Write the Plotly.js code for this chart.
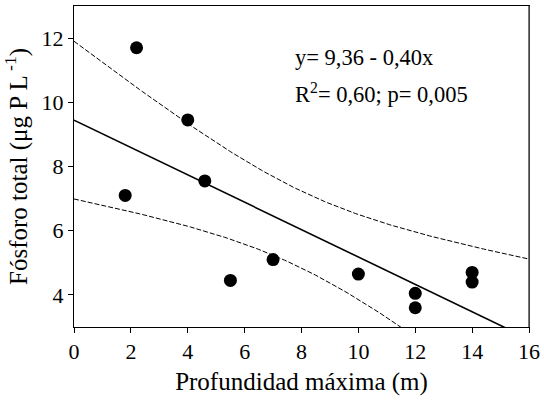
<!DOCTYPE html>
<html>
<head>
<meta charset="utf-8">
<script src="https://cdn.plot.ly/plotly-3.0.1.min.js"></script>
<style>html,body{margin:0;padding:0;background:#fff;}#chart{width:544px;height:401px;}</style>
</head>
<body>
<div id="chart"></div>
<script>
// Data
const depth = [1.8, 2.2, 4.0, 4.6, 5.5, 7.0, 10.0, 12.0, 12.0, 14.0, 14.0];
const phosphorus = [7.1, 11.7, 9.45, 7.55, 4.45, 5.1, 4.65, 4.05, 3.6, 4.7, 4.4];
const xTicks = [0, 2, 4, 6, 8, 10, 12, 14, 16];
const yTicks = [4, 6, 8, 10, 12];
const eqText = "y= 9,36 - 0,40x";
const statText = "R<sup>2</sup>= 0,60; p= 0,005";
const tCrit = 2.262; // t(0.975, df=9)

// Least-squares fit and 95% confidence band derived from the data
const n = depth.length;
const mx = depth.reduce((a, b) => a + b, 0) / n;
const my = phosphorus.reduce((a, b) => a + b, 0) / n;
let sxx = 0, sxy = 0, syy = 0;
for (let i = 0; i < n; i++) {
  sxx += (depth[i] - mx) ** 2;
  sxy += (depth[i] - mx) * (phosphorus[i] - my);
  syy += (phosphorus[i] - my) ** 2;
}
const slope = sxy / sxx;
const intercept = my - slope * mx;
const s = Math.sqrt((syy - slope * sxy) / (n - 2));
const fitX = [], fitY = [], upY = [], loY = [];
for (let k = 0; k <= 160; k++) {
  const x = k / 10;
  const yh = intercept + slope * x;
  const hw = tCrit * s * Math.sqrt(1 / n + (x - mx) ** 2 / sxx);
  fitX.push(x); fitY.push(yh); upY.push(yh + hw); loY.push(yh - hw);
}

const fam = 'Liberation Serif, Times New Roman, serif';
const f = (sz) => ({family: fam, size: sz, color: '#000'});

const traces = [
  {x: fitX, y: upY, mode: 'lines', line: {color: '#000', width: 1, dash: '5px,2px'}, hoverinfo: 'skip'},
  {x: fitX, y: loY, mode: 'lines', line: {color: '#000', width: 1, dash: '5px,2px'}, hoverinfo: 'skip'},
  {x: fitX, y: fitY, mode: 'lines', line: {color: '#000', width: 1.6}, hoverinfo: 'skip'},
  {x: depth, y: phosphorus, mode: 'markers', marker: {color: '#000', size: 13}}
];

const layout = {
  width: 544, height: 401,
  margin: {l: 74, r: 15, t: 6, b: 74},
  paper_bgcolor: '#fff', plot_bgcolor: '#fff',
  showlegend: false,
  font: f(22),
  xaxis: {
    range: [0, 16], tickvals: xTicks, ticktext: xTicks.map(String),
    showgrid: false, zeroline: false, showline: true, linecolor: '#000', linewidth: 1, mirror: true,
    ticks: 'outside', ticklen: 5, tickwidth: 1, tickcolor: '#000',
    tickfont: f(22),
    title: {text: 'Profundidad máxima (m)', font: f(25), standoff: 9}
  },
  yaxis: {
    range: [3, 13], tickvals: yTicks, ticktext: yTicks.map(String),
    showgrid: false, zeroline: false, showline: true, linecolor: '#000', linewidth: 1, mirror: true,
    ticks: 'outside', ticklen: 5, tickwidth: 1, tickcolor: '#000',
    tickfont: f(22),
    title: {text: 'Fósforo total (μg P L<sup> -1</sup>)', font: f(25), standoff: 8}
  },
  shapes: [
    {type: 'line', xref: 'paper', yref: 'paper', x0: 1, x1: 1, y0: 0, y1: 1, line: {color: '#555', width: 1.6}, layer: 'above'}
  ],
  annotations: [
    {x: 7.7, y: 11.39, xref: 'x', yref: 'y', text: eqText, showarrow: false, xanchor: 'left', yanchor: 'middle', font: f(22.5)},
    {x: 7.7, y: 10.30, xref: 'x', yref: 'y', text: statText, showarrow: false, xanchor: 'left', yanchor: 'middle', font: f(22.5)}
  ]
};

Plotly.newPlot('chart', traces, layout, {displayModeBar: false, staticPlot: true});
</script>
</body>
</html>
